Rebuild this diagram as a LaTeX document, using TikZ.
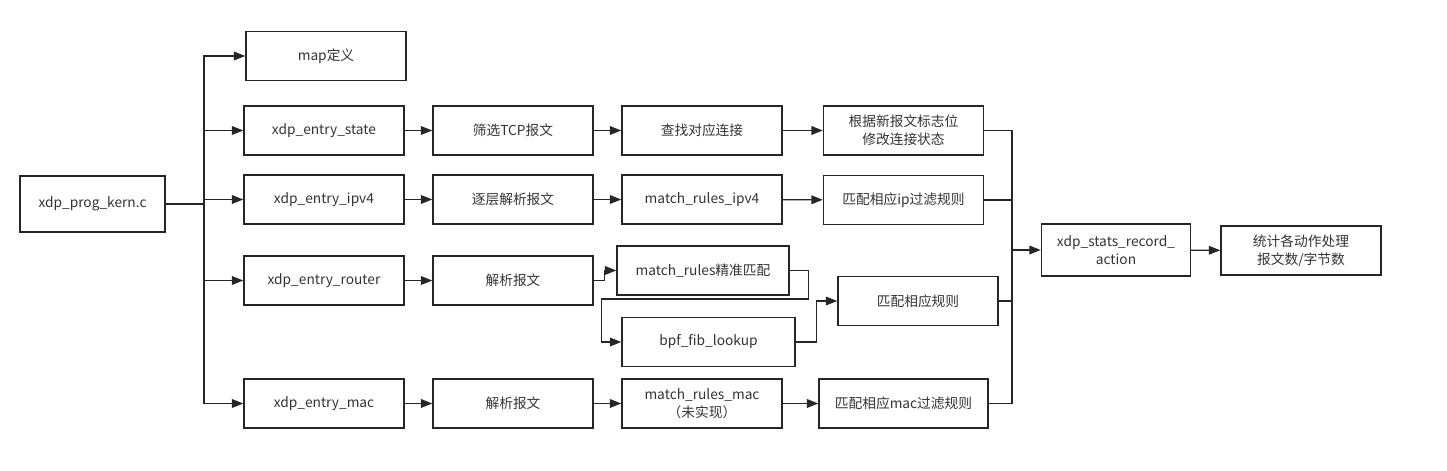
\documentclass[tikz,border=0pt]{standalone}
\usepackage{fontspec}
\newfontfamily\cjk{Noto Sans CJK SC}
\usetikzlibrary{arrows.meta,positioning}
\definecolor{ink}{HTML}{262626}
\definecolor{txt}{HTML}{333333}

\begin{document}
\begin{tikzpicture}[
  x=0.75pt, y=-0.75pt,
  every node/.style={font=\cjk\fontsize{10.3pt}{13.5pt}\selectfont, align=center, text=txt},
  box/.style={draw=ink, line width=1.1pt, minimum width=120pt, minimum height=36.75pt, inner sep=1pt},
  arr/.style={draw=ink, line width=0.9pt, -{Triangle[length=8.5pt,width=6.5pt]}},
  ln/.style={draw=ink, line width=0.9pt}
]
\useasboundingbox (0,0) rectangle (1447,471);

\node[box, minimum width=108.75pt, minimum height=42pt] (kern) at (92.5,204) {xdp\_prog\_kern.c};
\node[box] (map) at (326,56) {map定义};
\node[box] (state) at (324,130.5) {xdp\_entry\_state};
\node[box] (ipv4) at (324,199.5) {xdp\_entry\_ipv4};
\node[box] (router) at (324,280.5) {xdp\_entry\_router};
\node[box] (mac) at (324,403.5) {xdp\_entry\_mac};

\node[box] (tcp) at (513,130.5) {筛选TCP报文};
\node[box] (layer) at (513,199.5) {逐层解析报文};
\node[box] (parse) at (513,280.5) {解析报文};
\node[box] (parsemac) at (513,403.5) {解析报文};

\node[box] (conn) at (702,130.5) {查找对应连接};
\node[box] (ruleipv4) at (702,199.5) {match\_rules\_ipv4};
\node[box, minimum width=129pt] (exact) at (703,270.5) {match\_rules精准匹配};
\node[box, minimum width=129.75pt] (fib) at (708.5,342) {bpf\_fib\_lookup};
\node[box] (rulemac) at (702,403.5) {match\_rules\_mac\\（未实现）};

\node[box] (flag) at (903.5,130.5) {根据新报文标志位\\修改连接状态};
\node[box] (ipfilter) at (903.5,200) {匹配相应ip过滤规则};
\node[box] (rules) at (918,301) {匹配相应规则};
\node[box, minimum width=126.75pt] (macfilter) at (903.5,403.5) {匹配相应mac过滤规则};

\node[box, minimum width=111.75pt, minimum height=39pt] (stats) at (1116,250) {xdp\_stats\_record\_\\action};
\node[box] (count) at (1301,250.5) {统计各动作处理\\报文数/字节数};

\coordinate (split) at (204,204);
\coordinate (merge) at (1012,250);

\draw[ln] (kern.east) -- (split);
\foreach \t in {map,state,ipv4,router,mac}
  \draw[arr] (split) |- (\t.west);

\draw[arr] (state) -- (tcp);
\draw[arr] (tcp) -- (conn);
\draw[arr] (conn) -- (flag);
\draw[arr] (ipv4) -- (layer);
\draw[arr] (layer) -- (ruleipv4);
\draw[arr] (ruleipv4) -- (ipfilter);
\draw[arr] (router) -- (parse);
\draw[arr] (mac) -- (parsemac);
\draw[arr] (parsemac) -- (rulemac);
\draw[arr] (rulemac) -- (macfilter);

\draw[arr] (parse.east) -- ++(11,0) |- (exact.west);
\draw[arr] (exact.east) -- ++(19,0) -- ++(0,28.5) -- ++(-207,0) |- (fib.west);
\draw[arr] (fib.east) -- ++(21,0) |- (rules.west);

\foreach \t in {flag,ipfilter,rules,macfilter}
  \draw[ln] (\t.east) -| (merge);
\draw[arr] (merge) -- (stats);
\draw[arr] (stats) -- (count);

\end{tikzpicture}
\end{document}
